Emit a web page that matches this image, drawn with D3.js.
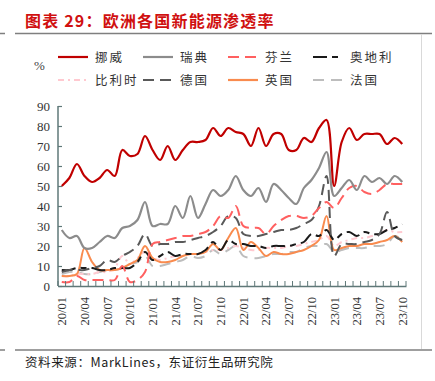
<!DOCTYPE html>
<html><head><meta charset="utf-8">
<script src="https://cdn.jsdelivr.net/npm/d3@7/dist/d3.min.js"></script>
<style>body{margin:0;background:#fff}svg{display:block}</style>
</head><body>
<script>
const months = [];
for (const y of ["20","21","22","23"]) for (let m=1;m<=12;m++){ if(y==="23"&&m>10) break; months.push(y+"/"+String(m).padStart(2,"0")); }
const tickLabels = ["20/01","20/04","20/07","20/10","21/01","21/04","21/07","21/10","22/01","22/04","22/07","22/10","23/01","23/04","23/07","23/10"];
const yTicks = [0,10,20,30,40,50,60,70,80,90];

const norway  = [50,54,61,55,52,54,58,55,68,65,66,75, 68,63,70,63,68,72,72,73,79,75,79,77, 76,70,79,70,76,76,68,68,74,72,79,83, 50,72,79,73,76,76,76,71,74,71];
const sweden  = [28,24,25,19,19,22,25,24,29,30,33,42, 30,31,31,40,34,45,34,41,48,45,48,55, 48,45,49,42,51,48,44,41,49,53,59,67, 45,49,53,48,55,52,54,51,55,52];
const finland = [2,2,5,3,3,3,3,3,10,2,3,7, 21,22,23,24,25,25,26,27,30,35,34,40, 30,29,29,26,30,33,35,35,34,35,39,42, 39,44,49,50,47,46,48,51,51,51];
const austria = [8,8,9,9,9,8,8,9,9,9,12,17, 13,15,17,15,16,16,16,18,22,18,23,21, 21,20,20,19,20,20,20,21,22,26,25,28, 23,26,27,25,27,26,26,28,29,31];
const belgium = [5,5,6,6,6,7,7,9,15,11,14,17, 14,13,14,15,15,16,16,17,18,18,19,20, 19,18,18,19,19,19,20,20,21,22,23,25, 20,22,23,24,24,25,26,28,27,27];
const germany = [7,8,8,8,9,10,13,12,15,17,20,26, 20,21,21,22,22,23,24,25,27,30,35,34, 26,25,25,26,27,28,28,29,31,33,40,55, 15,21,21,21,22,23,26,37,25,23];
const uk      = [5,5,6,19,12,8,8,8,9,11,13,20, 14,12,12,13,15,16,16,17,21,18,24,29, 18,22,19,15,17,16,16,17,18,20,23,35, 18,19,20,20,21,21,22,23,25,22];
const france  = [6,7,7,6,6,7,8,8,9,11,12,15, 10,10,11,12,13,15,14,15,18,16,18,20, 15,14,14,15,16,16,17,17,19,20,20,21, 17,18,19,19,19,20,20,21,25,23];

const seriesNames = ["挪威","瑞典","芬兰","奥地利","比利时","德国","英国","法国"];
const seriesData = [norway,sweden,finland,austria,belgium,germany,uk,france];
const styles = [
  {c:"#c00000", w:2.2, d:null},
  {c:"#8c8c8c", w:2.2, d:null},
  {c:"#ff6060", w:2, d:"11,6"},
  {c:"#1a1a1a", w:2, d:"14,5,6,5"},
  {c:"#ffc9d0", w:2, d:"6,4,2,4"},
  {c:"#595959", w:2, d:"11,6"},
  {c:"#f98b4e", w:2, d:null},
  {c:"#bdbdbd", w:2, d:"11,7"}
];

const W=435,H=381;
const svg = d3.select("body").append("svg").attr("width",W).attr("height",H);
const serif = "'Liberation Serif','DejaVu Serif',serif";
const cjk = "'Noto Sans CJK SC','Noto Sans',sans-serif";

// title
svg.append("text").attr("x",25).attr("y",27).attr("fill","#d01010").attr("font-family",cjk)
  .attr("font-size",16).attr("font-weight","bold").attr("letter-spacing",1.2).text("图表 29：欧洲各国新能源渗透率");
// frame lines
const frame = svg.append("g").attr("stroke","#7f7f7f").attr("stroke-width",1.5);
frame.append("line").attr("x1",0).attr("x2",5).attr("y1",33.5).attr("y2",33.5);
frame.append("line").attr("x1",15).attr("x2",432).attr("y1",33.5).attr("y2",33.5);
frame.append("line").attr("x1",0).attr("x2",5).attr("y1",350).attr("y2",350);
frame.append("line").attr("x1",15).attr("x2",432).attr("y1",350).attr("y2",350);
svg.append("line").attr("x1",421.5).attr("x2",421.5).attr("y1",34).attr("y2",349).attr("stroke","#d9d9d9").attr("stroke-width",1);

// footer
svg.append("text").attr("x",25).attr("y",367).attr("font-family",cjk).attr("font-size",12.5).attr("fill","#222")
  .attr("letter-spacing",0.6).text("资料来源：MarkLines，东证衍生品研究院");

// scales
const x = d3.scaleBand().domain(months).range([58,406]).padding(0);
const cx = m => x(m)+x.bandwidth()/2;
const y = d3.scaleLinear().domain([0,90]).range([286,106]);

// lines
const line = d3.line().x((d,i)=>cx(months[i])).y(d=>y(d)).curve(d3.curveCatmullRom.alpha(0.5));
const order = [7,4,6,3,5,2,1,0];
for (const k of order){
  const s = styles[k];
  svg.append("path").datum(seriesData[k]).attr("d",line).attr("fill","none")
    .attr("stroke",s.c).attr("stroke-width",s.w).attr("stroke-dasharray",s.d).attr("stroke-linejoin","round");
}

// axes
const axisColor = "#5f7878";
const yAxis = svg.append("g").attr("transform","translate(58,0)")
  .call(d3.axisLeft(y).tickValues(yTicks).tickSize(-4).tickPadding(8));
yAxis.attr("font-family",serif);
yAxis.select(".domain").attr("stroke",axisColor).attr("stroke-width",1.5).attr("d","M0,"+y(90)+"V"+y(0));
yAxis.selectAll(".tick line").attr("stroke",axisColor).attr("stroke-width",1.2);
yAxis.selectAll(".tick text").attr("font-family",serif).attr("font-size",13).attr("fill","#333");

const xAxis = svg.append("g").attr("transform","translate(0,286)")
  .call(d3.axisBottom(x).tickValues(tickLabels).tickSize(0).tickPadding(0));
xAxis.attr("font-family",serif);
xAxis.select(".domain").attr("stroke",axisColor).attr("stroke-width",1.5);
xAxis.selectAll(".tick text").attr("font-family",serif).attr("font-size",12.5).attr("fill","#333")
  .attr("transform","rotate(-90)").attr("text-anchor","end").attr("dy","0.35em").attr("x",-11).attr("y",0);
// band boundary ticks
const bounds = months.map(m=>x(m)).concat([x(months[months.length-1])+x.bandwidth()]);
svg.append("g").selectAll("line").data(bounds).join("line")
  .attr("x1",d=>d).attr("x2",d=>d).attr("y1",286).attr("y2",281).attr("stroke",axisColor).attr("stroke-width",1);

// % label
svg.append("text").attr("x",34).attr("y",70).attr("font-family",serif).attr("font-size",13).attr("fill","#444").text("%");

// legend
const lx=[58,143,228,313], ly=[57,80];
seriesNames.forEach((n,k)=>{
  const col=k%4,row=Math.floor(k/4);
  const s=styles[k];
  const g=svg.append("g");
  g.append("line").attr("x1",lx[col]).attr("x2",lx[col]+30).attr("y1",ly[row]).attr("y2",ly[row])
   .attr("stroke",s.c).attr("stroke-width",2.2).attr("stroke-dasharray",s.d);
  g.append("text").attr("x",lx[col]+37).attr("y",ly[row]+4.5).attr("font-family",cjk).attr("font-size",12.5)
   .attr("letter-spacing",2).attr("fill","#333").text(n);
});
</script>
</body></html>
